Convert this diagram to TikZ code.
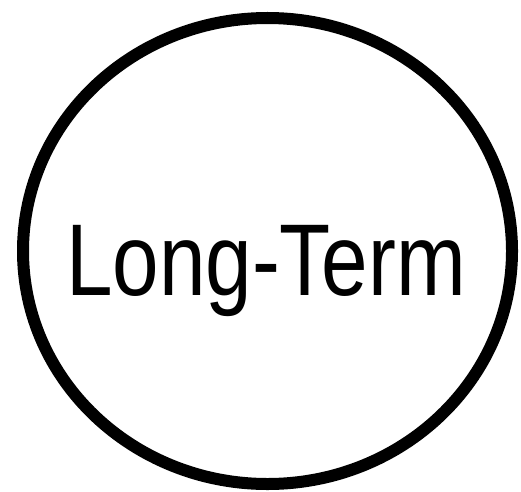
\documentclass[tikz,border=0pt]{standalone}
\usepackage{fontspec}
\setmainfont{Liberation Sans}
\newfontfamily\termfont[FakeStretch=0.82]{Liberation Sans}
\usetikzlibrary{shapes.geometric, positioning}

\begin{document}
\begin{tikzpicture}[
    x=1pt, y=1pt,
    ring/.style={ellipse, draw=black, line width=12pt, minimum width=489pt, minimum height=466pt, inner sep=0pt},
    term/.style={font=\termfont\fontsize{102}{110}\selectfont, inner sep=0pt, anchor=base}
]
    \useasboundingbox (0,0) rectangle (521,491);
    \node[ring] (horizon) at (267.5,240) {};
    \node[term] (label) at (266,196) {Long-Term};
\end{tikzpicture}
\end{document}
